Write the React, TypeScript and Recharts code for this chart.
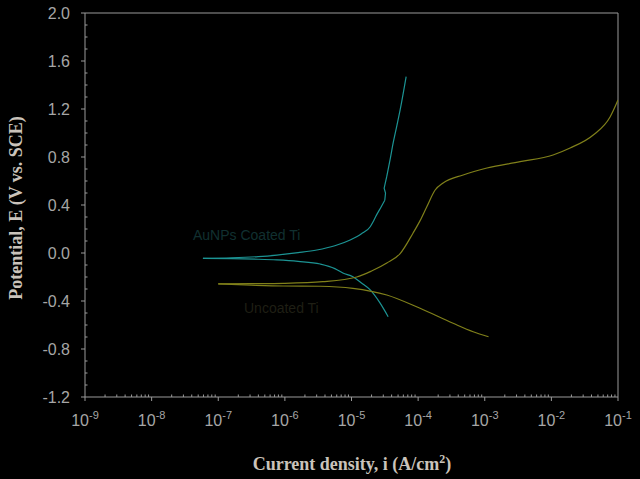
import React from "react";
import { LineChart, Line, XAxis, YAxis, ReferenceLine } from "recharts";

// AuNPs coated Ti — anodic branch (current density A/cm², potential V vs SCE)
const coatedAnodicI = [5.89e-8, 1.58e-7, 3.98e-7, 7.59e-7, 1.58e-6, 3.02e-6, 5.62e-6, 9.55e-6, 1.41e-5, 1.91e-5, 2.1e-5, 2.29e-5, 2.82e-5, 3.16e-5, 3.24e-5, 3.09e-5, 3.39e-5, 3.8e-5, 4.22e-5, 4.79e-5, 5.37e-5, 6.61e-5];
const coatedAnodicE = [-0.044, -0.04, -0.03, -0.017, 0.003, 0.025, 0.06, 0.108, 0.16, 0.219, 0.258, 0.3, 0.39, 0.44, 0.5, 0.54, 0.64, 0.78, 0.917, 1.06, 1.192, 1.47];
// AuNPs coated Ti — cathodic branch
const coatedCathodicI = [5.89e-8, 1.58e-7, 3.98e-7, 7.59e-7, 1.58e-6, 3.39e-6, 5.62e-6, 7.41e-6, 1.05e-5, 1.41e-5, 1.91e-5, 2.63e-5, 3.55e-5];
const coatedCathodicE = [-0.044, -0.047, -0.052, -0.058, -0.07, -0.092, -0.13, -0.167, -0.198, -0.25, -0.308, -0.41, -0.531];
// Uncoated Ti — anodic branch
const uncoatedAnodicI = [1.0e-7, 3.16e-7, 9.55e-7, 3.72e-6, 1.2e-5, 2.0e-5, 3.39e-5, 5.37e-5, 8.41e-5, 1.07e-4, 1.35e-4, 1.8e-4, 2.37e-4, 4.74e-4, 1.08e-3, 3.39e-3, 1.06e-2, 1.91e-2, 4.25e-2, 7.64e-2, 1.0e-1];
const uncoatedAnodicE = [-0.258, -0.256, -0.253, -0.239, -0.2, -0.15, -0.083, -0.005, 0.167, 0.27, 0.386, 0.525, 0.583, 0.65, 0.708, 0.761, 0.817, 0.875, 0.983, 1.136, 1.275];
// Uncoated Ti — cathodic branch
const uncoatedCathodicI = [1.0e-7, 3.16e-7, 9.55e-7, 3.39e-6, 1.05e-5, 3.39e-5, 1.07e-4, 3.35e-4, 6.7e-4, 1.14e-3];
const uncoatedCathodicE = [-0.258, -0.268, -0.275, -0.277, -0.294, -0.35, -0.461, -0.586, -0.656, -0.698];

const xExponents = [-9, -8, -7, -6, -5, -4, -3, -2, -1];
const yMajorTicks = [-1.2, -0.8, -0.4, 0.0, 0.4, 0.8, 1.2, 1.6, 2.0];

const zip = (is: number[], es: number[]) => is.map((i, k) => ({ i, e: es[k] }));

const coatedAnodic = zip(coatedAnodicI, coatedAnodicE);
// split the anodic curve around its small kink so the smooth parts can use a monotone curve
const coatedAnodicLow = coatedAnodic.slice(0, 14);
const coatedAnodicKink = coatedAnodic.slice(13, 17);
const coatedAnodicHigh = coatedAnodic.slice(16);
const coatedCathodic = zip(coatedCathodicI, coatedCathodicE);
const uncoatedAnodic = zip(uncoatedAnodicI, uncoatedAnodicE);
const uncoatedCathodic = zip(uncoatedCathodicI, uncoatedCathodicE);

const xTicks: number[] = [];
xExponents.forEach((p) => {
  xTicks.push(Math.pow(10, p));
  if (p < -1) for (let k = 2; k <= 9; k++) xTicks.push(k * Math.pow(10, p));
});
const yTicks: number[] = [];
for (let k = -12; k <= 20; k++) yTicks.push(k / 10);

const AXIS = "#9a9a9a";
const LABEL = "#a6a6a6";
const CYAN = "#1c9494";
const OLIVE = "#80801a";

const isMajorX = (v: number) => {
  const l = Math.log10(v);
  return Math.abs(l - Math.round(l)) < 1e-6;
};

const XTick = (props: any) => {
  const { x, y, payload } = props;
  const v = payload.value;
  if (isMajorX(v)) {
    const exp = Math.round(Math.log10(v));
    return (
      <g>
        <line x1={x} x2={x} y1={y} y2={y + 4} stroke={AXIS} />
        <text x={x} y={y + 29} textAnchor="middle" fill={LABEL} fontSize={16} fontFamily="Liberation Sans, Arial, sans-serif">
          10
          <tspan dy={-7} fontSize={11}>{exp}</tspan>
        </text>
      </g>
    );
  }
  return <line x1={x} x2={x} y1={y} y2={y - 2.5} stroke={AXIS} />;
};

const YTick = (props: any) => {
  const { x, y, payload } = props;
  const v = payload.value;
  const major = yMajorTicks.some((m) => Math.abs(m - v) < 1e-6);
  if (major) {
    return (
      <g>
        <line x1={x - 4} x2={x} y1={y} y2={y} stroke={AXIS} />
        <text x={x - 15} y={y} dy="0.35em" textAnchor="end" fill={LABEL} fontSize={16} fontFamily="Liberation Sans, Arial, sans-serif">
          {v.toFixed(1)}
        </text>
      </g>
    );
  }
  return <line x1={x} x2={x + 2.5} y1={y} y2={y} stroke={AXIS} />;
};

const lineProps = { dataKey: "e", strokeWidth: 1.2, dot: false, isAnimationActive: false } as const;

export default function App() {
  return (
    <div style={{ position: "fixed", left: 0, top: 0, width: 640, height: 479, background: "#000", overflow: "hidden" }}>
      <LineChart width={640} height={479} margin={{ top: 13, right: 22, bottom: 0, left: 0 }}>
        <XAxis
          type="number"
          dataKey="i"
          scale="log"
          domain={[1e-9, 1e-1]}
          allowDataOverflow
          ticks={xTicks}
          interval={0}
          tickSize={0}
          tickMargin={0}
          tick={XTick}
          axisLine={{ stroke: AXIS }}
          height={82}
        />
        <YAxis
          type="number"
          dataKey="e"
          domain={[-1.2, 2.0]}
          allowDataOverflow
          ticks={yTicks}
          interval={0}
          tickSize={0}
          tickMargin={0}
          tick={YTick}
          axisLine={{ stroke: AXIS }}
          width={85}
        />
        <ReferenceLine y={2.0} stroke={AXIS} />
        <ReferenceLine x={0.1} stroke={AXIS} />
        <Line data={coatedAnodicLow} type="monotone" stroke={CYAN} {...lineProps} />
        <Line data={coatedAnodicKink} type="linear" stroke={CYAN} {...lineProps} />
        <Line data={coatedAnodicHigh} type="monotone" stroke={CYAN} {...lineProps} />
        <Line data={coatedCathodic} type="monotone" stroke={CYAN} {...lineProps} />
        <Line data={uncoatedAnodic} type="monotone" stroke={OLIVE} {...lineProps} />
        <Line data={uncoatedCathodic} type="monotone" stroke={OLIVE} {...lineProps} />
      </LineChart>
      <div style={{ position: "absolute", left: 193, top: 227, color: "#113030", fontSize: 14, fontFamily: "Liberation Sans, Arial, sans-serif", whiteSpace: "nowrap" }}>
        AuNPs Coated Ti
      </div>
      <div style={{ position: "absolute", left: 244, top: 300, color: "#1f1f14", fontSize: 14, fontFamily: "Liberation Sans, Arial, sans-serif", whiteSpace: "nowrap" }}>
        Uncoated Ti
      </div>
      <div
        style={{
          position: "absolute",
          left: 16,
          top: 208,
          transform: "translate(-50%, -50%) rotate(-90deg)",
          color: "#cac3bb",
          fontSize: 18,
          fontWeight: "bold",
          fontFamily: "Liberation Serif, Times New Roman, serif",
          whiteSpace: "nowrap",
        }}
      >
        Potential, E (V vs. SCE)
      </div>
      <div
        style={{
          position: "absolute",
          left: 352,
          top: 463,
          transform: "translate(-50%, -50%)",
          color: "#cac3bb",
          fontSize: 18,
          fontWeight: "bold",
          fontFamily: "Liberation Serif, Times New Roman, serif",
          whiteSpace: "nowrap",
        }}
      >
        Current density, i (A/cm<sup style={{ fontSize: 12 }}>2</sup>)
      </div>
    </div>
  );
}
